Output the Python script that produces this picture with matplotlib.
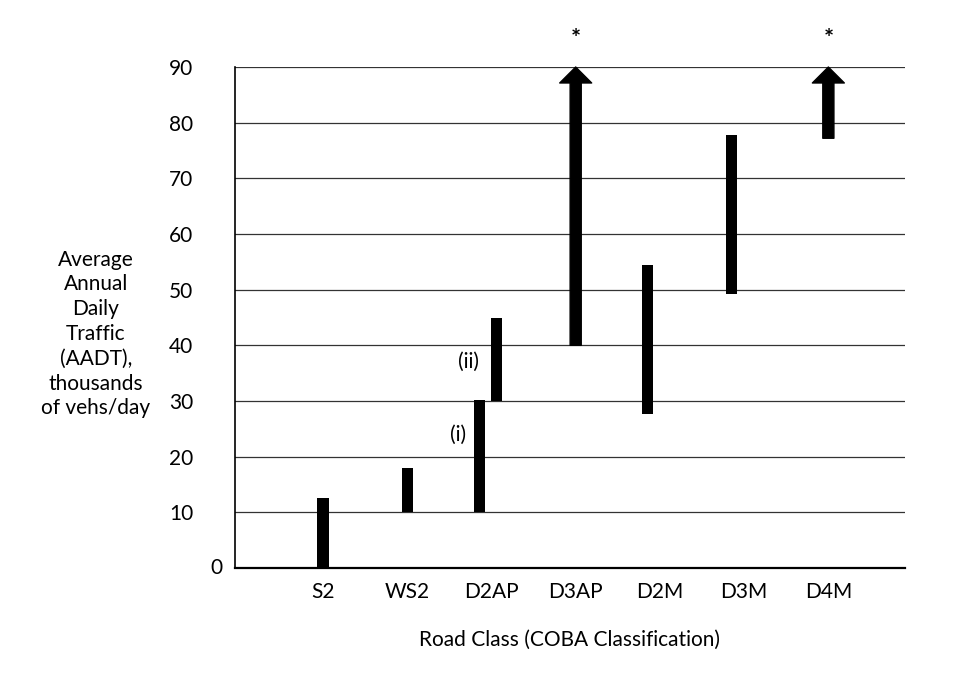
import matplotlib
matplotlib.use("Agg")
import matplotlib.pyplot as plt
from matplotlib.patches import FancyArrowPatch, ArrowStyle

plt.rcParams['font.family'] = ['Lato', 'DejaVu Sans']

# ---- data ----
categories = ["S2", "WS2", "D2AP", "D3AP", "D2M", "D3M", "D4M"]
# plain ranges (thousands of vehs/day): position (category units), low, high
bar_pos = [0.0, 1.0, 1.86, 2.06, 3.85, 4.85]
bar_low = [0.0, 10.0, 10.0, 30.0, 27.7, 49.3]
bar_high = [12.5, 18.0, 30.2, 45.0, 54.4, 77.8]
# open-ended ranges (arrow to top of scale, marked *)
arrow_pos = [3.0, 6.0]
arrow_low = [40.0, 77.2]
arrow_top = 90.0
sub_labels = ["(i)", "(ii)"]
sub_label_pos = [1.60, 1.73]
sub_label_y = [24.0, 37.0]
yticks = [10, 20, 30, 40, 50, 60, 70, 80, 90]

FS = 15

fig = plt.figure(figsize=(9.54, 6.73), dpi=100)
ax = fig.add_axes([235/954, 1-568/673, (905-235)/954, (568-67)/673])
ax.set_xlim(-1.045, 6.91)
ax.set_ylim(0, 90)

# gridlines
for v in yticks:
    ax.axhline(v, color='#333333', lw=0.9, zorder=1)

ax.bar(bar_pos, [h - l for h, l in zip(bar_high, bar_low)], bottom=bar_low,
       width=0.135, color='black', zorder=3)

style = ArrowStyle("Simple", head_length=11.5, head_width=23, tail_width=8)
for x, lo in zip(arrow_pos, arrow_low):
    arr = FancyArrowPatch((x, lo), (x, arrow_top), arrowstyle=style,
                          mutation_scale=1, shrinkA=0, shrinkB=0,
                          color='black', clip_on=False, zorder=4)
    ax.add_patch(arr)
    ax.annotate("*", xy=(x, arrow_top), xytext=(0, 28), textcoords='offset pixels',
                ha='center', va='center', fontsize=17, fontweight='bold',
                annotation_clip=False)

for t, x, y in zip(sub_labels, sub_label_pos, sub_label_y):
    ax.text(x, y, t, ha='center', va='center', fontsize=FS)

# spines
for s in ['top', 'right']:
    ax.spines[s].set_visible(False)
ax.spines['left'].set_linewidth(1.2)
ax.spines['bottom'].set_linewidth(1.6)
ax.spines['left'].set_bounds(0, 90)

ax.set_yticks(yticks)
ax.set_yticklabels([str(v) for v in yticks], fontsize=FS)
ax.tick_params(axis='y', length=0, pad=30)
ax.annotate("0", xy=(0, 0), xycoords=('axes fraction', 'data'),
            xytext=(-12, 0), textcoords='offset pixels', ha='right', va='center',
            fontsize=FS)

ax.set_xticks(range(len(categories)))
ax.set_xticklabels(categories, fontsize=FS)
ax.tick_params(axis='x', length=0, pad=10)

ax.set_xlabel("Road Class (COBA Classification)", fontsize=FS, labelpad=20)

fig.text(96/954, 1-334/673,
         "Average\nAnnual\nDaily\nTraffic\n(AADT),\nthousands\nof vehs/day",
         ha='center', va='center', fontsize=FS, linespacing=1.3)

fig.savefig("out.png", dpi=100)
